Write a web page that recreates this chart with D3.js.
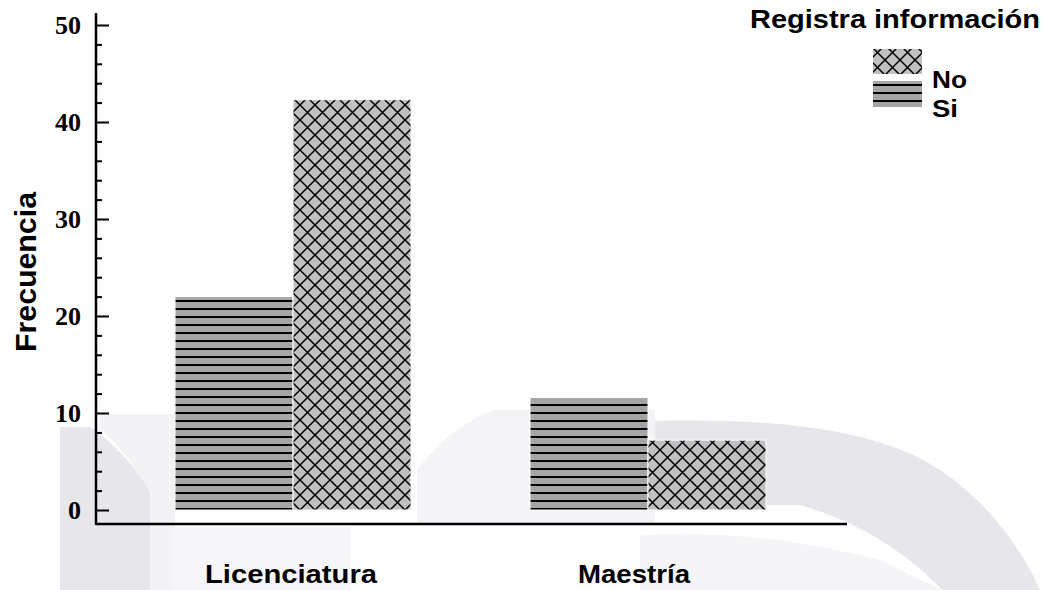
<!DOCTYPE html>
<html>
<head>
<meta charset="utf-8">
<script src="https://cdn.jsdelivr.net/npm/d3@7"></script>
<style>
	body { margin: 0; background: #fff; }
	svg { display: block; }
</style>
</head>
<body>
<svg id="chart" width="1044" height="590"></svg>
<script>
//Data
const CATEGORIES = ["Licenciatura", "Maestría"];
const SERIES = ["Si", "No"];
const VALUES_SI = [22, 11.6];
const VALUES_NO = [42.3, 7.2];
const Y_TICKS = [0, 10, 20, 30, 40, 50];
const Y_MINOR = [2, 4, 6, 8, 12, 14, 16, 18, 22, 24, 26, 28, 32, 34, 36, 38, 42, 44, 46, 48];
const LEGEND_ORDER = ["No", "Si"];
const LEGEND_TITLE = "Registra información";
const Y_TITLE = "Frecuencia";

const FILL = { Si: "url(#stripes)", No: "url(#hatch)" };

const svg = d3.select("#chart");

// faint background watermark
const wm = svg.append("g");
wm.append("path").attr("fill", "#f3f3f6")
	.attr("d", "M100,414L175,414L175,590L150,590L150,492C135,465 115,440 100,430Z");
wm.append("path").attr("fill", "#f6f6f8")
	.attr("d", "M173,527L350,527L350,590L173,590Z");
wm.append("path").attr("fill", "#f4f4f6")
	.attr("d", "M417,524L417,470C440,440 465,420 495,410L655,410L655,524Z");
wm.append("path").attr("fill", "#f5f5f7")
	.attr("d", "M640,535C720,530 800,540 880,560L942,590L640,590Z");
wm.append("path").attr("fill", "#e6e6eb")
	.attr("d", "M60,427L90,427C110,440 135,465 150,492L150,590L60,590Z");
wm.append("path").attr("fill", "#e6e6eb")
	.attr("d", "M655,421C780,418 880,430 940,470C985,500 1020,545 1040,590L942,590C910,555 860,522 800,505L655,505Z");

// patterns
const defs = svg.append("defs");
const stripes = defs.append("pattern")
	.attr("id", "stripes")
	.attr("patternUnits", "userSpaceOnUse")
	.attr("width", 8).attr("height", 8);
stripes.append("rect").attr("width", 8).attr("height", 8).attr("fill", "#a6a6a6");
stripes.append("rect").attr("y", 4).attr("width", 8).attr("height", 2).attr("fill", "#000");

const hatch = defs.append("pattern")
	.attr("id", "hatch")
	.attr("patternUnits", "userSpaceOnUse")
	.attr("width", 15).attr("height", 15);
hatch.append("rect").attr("width", 15).attr("height", 15).attr("fill", "#c0c0c0");
hatch.append("path")
	.attr("d", "M0,0L15,15M15,0L0,15")
	.attr("stroke", "#000")
	.attr("stroke-width", 1.5)
	.attr("fill", "none");

// scales
const y = d3.scaleLinear().domain([0, 50]).range([510, 25]);
const x0 = d3.scalePoint().domain(CATEGORIES).range([293, 648]);
const x1 = d3.scaleBand().domain(SERIES).range([-118, 118]);
const xLabel = d3.scalePoint().domain(CATEGORIES).range([291, 634]);

const data = [];
CATEGORIES.forEach(function (c, i) {
	data.push({ cat: c, key: "Si", value: VALUES_SI[i] });
	data.push({ cat: c, key: "No", value: VALUES_NO[i] });
});

// bars
svg.append("g").selectAll("rect")
	.data(data)
	.enter().append("rect")
	.attr("x", function (d) { return x0(d.cat) + x1(d.key); })
	.attr("y", function (d) { return y(d.value); })
	.attr("width", x1.bandwidth())
	.attr("height", function (d) { return y(0) - y(d.value); })
	.attr("fill", function (d) { return FILL[d.key]; })
	.attr("stroke", "#fff")
	.attr("stroke-width", 1);

// y axis
const axisG = svg.append("g").attr("transform", "translate(96,0)");
axisG.call(d3.axisLeft(y).tickValues(Y_TICKS).tickSize(-13).tickPadding(15).tickFormat(d3.format("d")));
axisG.select(".domain").remove();
axisG.selectAll(".tick line").attr("stroke", "#000").attr("stroke-width", 2);
axisG.selectAll(".tick text")
	.attr("font-family", "'Liberation Serif', 'Times New Roman', serif")
	.attr("font-weight", "bold")
	.attr("font-size", 26)
	.attr("fill", "#000")
	.attr("dy", "0.33em");

const minorG = svg.append("g").attr("transform", "translate(96,0)");
minorG.call(d3.axisLeft(y).tickValues(Y_MINOR).tickSize(-6).tickFormat(""));
minorG.select(".domain").remove();
minorG.selectAll(".tick line").attr("stroke", "#000").attr("stroke-width", 2);

svg.append("line")
	.attr("x1", 96).attr("x2", 96)
	.attr("y1", y(50) - 12).attr("y2", y(0) + 15)
	.attr("stroke", "#000").attr("stroke-width", 2.5);

// x axis line
svg.append("line")
	.attr("x1", 96).attr("x2", 847)
	.attr("y1", y(0) + 14).attr("y2", y(0) + 14)
	.attr("stroke", "#000").attr("stroke-width", 2.5);

const SANS = "'Liberation Sans', Arial, sans-serif";

// category labels
svg.append("g").selectAll("text")
	.data(CATEGORIES)
	.enter().append("text")
	.attr("x", function (d) { return xLabel(d); })
	.attr("y", 583)
	.attr("text-anchor", "middle")
	.attr("font-family", SANS)
	.attr("font-weight", "bold")
	.attr("font-size", 26)
	.attr("textLength", function (d, i) { return i === 0 ? 172 : 112; })
	.attr("lengthAdjust", "spacingAndGlyphs")
	.text(function (d) { return d; });

// y title
svg.append("text")
	.attr("transform", "translate(36,272) rotate(-90)")
	.attr("text-anchor", "middle")
	.attr("font-family", SANS)
	.attr("font-weight", "bold")
	.attr("font-size", 29)
	.attr("textLength", 160)
	.attr("lengthAdjust", "spacingAndGlyphs")
	.text(Y_TITLE);

// legend
const legend = svg.append("g");
legend.append("text")
	.attr("x", 750)
	.attr("y", 28)
	.attr("font-family", SANS)
	.attr("font-weight", "bold")
	.attr("font-size", 25)
	.attr("textLength", 290)
	.attr("lengthAdjust", "spacingAndGlyphs")
	.text(LEGEND_TITLE);

const legendRows = legend.selectAll(".row")
	.data(LEGEND_ORDER)
	.enter().append("g")
	.attr("class", "row");

legendRows.append("rect")
	.attr("x", 873)
	.attr("y", function (d, i) { return 49 + i * 32; })
	.attr("width", 49)
	.attr("height", function (d, i) { return i === 0 ? 25 : 26; })
	.attr("fill", function (d) { return FILL[d]; });

legendRows.append("text")
	.attr("x", 932)
	.attr("y", function (d, i) { return 88 + i * 29; })
	.attr("font-family", SANS)
	.attr("font-weight", "bold")
	.attr("font-size", 23)
	.attr("textLength", function (d) { return d === "No" ? 35 : 26; })
	.attr("lengthAdjust", "spacingAndGlyphs")
	.text(function (d) { return d; });
</script>
</body>
</html>
